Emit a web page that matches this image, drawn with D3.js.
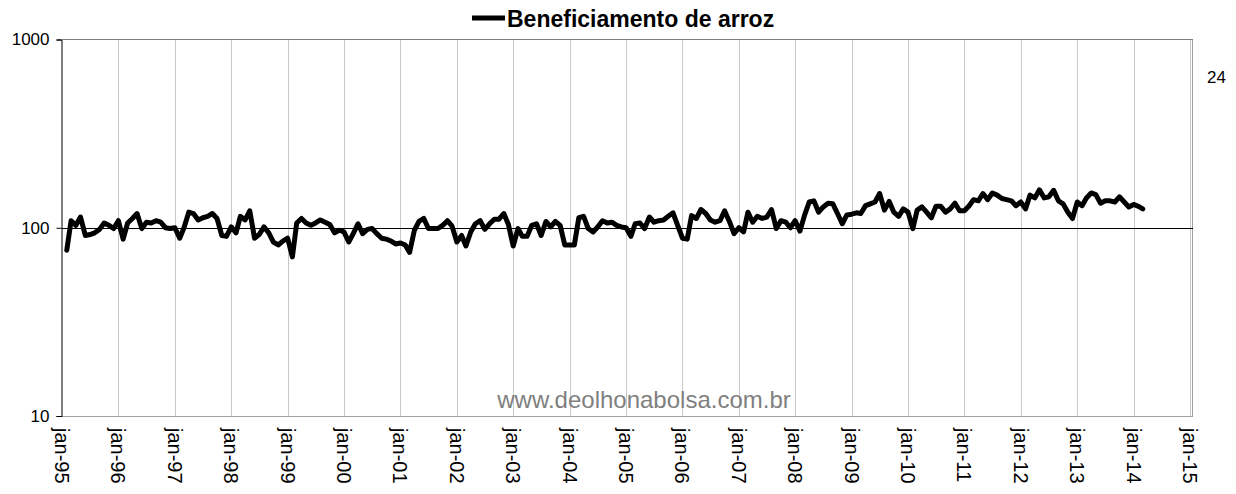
<!DOCTYPE html>
<html>
<head>
<meta charset="utf-8">
<title>Beneficiamento de arroz</title>
<script src="https://d3js.org/d3.v7.min.js"></script>
<style>
  body { margin: 0; background: #fff; }
  text { font-family: "Liberation Sans", Arial, sans-serif; }
</style>
</head>
<body>
<div id="chart"></div>
<script>
// monthly index, first point feb-95
let startYear = 1995, startMonth = 1;
let v1995 = [76, 109, 103, 114, 91, 92, 94, 98, 106, 103, 99];
let v1996 = [109, 87, 106, 112, 119, 99, 107, 106, 109, 107, 100, 99];
let v1997 = [100, 88, 100, 121, 119, 110, 113, 115, 119, 112, 91, 90];
let v1998 = [101, 94, 115, 110, 123, 88, 92, 101, 94, 84, 81, 85];
let v1999 = [88, 70, 106, 112, 106, 103, 106, 110, 107, 104, 94, 97];
let v2000 = [95, 84, 93, 105, 93, 98, 99, 93, 88, 87, 85, 82];
let v2001 = [83, 81, 74, 97, 108, 112, 99, 99, 99, 103, 109, 102];
let v2002 = [84, 91, 80, 95, 105, 109, 98, 105, 111, 111, 119, 104];
let v2003 = [80, 99, 90, 90, 103, 105, 91, 108, 101, 108, 103, 81];
let v2004 = [81, 81, 113, 115, 99, 95, 101, 109, 106, 107, 103, 101];
let v2005 = [100, 90, 105, 106, 99, 114, 107, 109, 110, 115, 120, 103];
let v2006 = [88, 87, 116, 112, 125, 119, 110, 107, 109, 123, 108, 93];
let v2007 = [100, 95, 121, 107, 115, 112, 114, 125, 99, 109, 107, 100];
let v2008 = [109, 96, 116, 137, 139, 121, 129, 135, 134, 119, 105, 117];
let v2009 = [118, 120, 119, 131, 134, 137, 152, 124, 138, 121, 115, 126];
let v2010 = [121, 99, 124, 129, 121, 113, 130, 130, 121, 126, 135, 123];
let v2011 = [123, 131, 141, 139, 152, 141, 153, 149, 143, 141, 139, 131];
let v2012 = [137, 126, 149, 144, 159, 144, 146, 158, 139, 134, 121, 112];
let v2013 = [137, 131, 144, 153, 150, 135, 139, 139, 137, 146, 137, 129];
let v2014 = [133, 130, 126];

let values = [].concat(v1995, v1996, v1997, v1998, v1999, v2000, v2001, v2002,
    v2003, v2004, v2005, v2006, v2007, v2008, v2009, v2010, v2011, v2012, v2013, v2014);
let data = values.map(function(v, i) {
    return { date: new Date(startYear, startMonth + i, 1), value: v };
});

let yTicks = [10, 100, 1000];
let xTicks = d3.range(1995, 2016).map(function(y) { return new Date(y, 0, 1); });
let seriesName = "Beneficiamento de arroz";
let watermark = "www.deolhonabolsa.com.br";
let sideNote = "24";

let W = 1236, H = 494;
let margin = {top: 39.5, left: 62, right: 46, bottom: 78};

let svg = d3.select("#chart").append("svg")
    .attr("width", W).attr("height", H);

let x = d3.scaleTime()
    .domain([new Date(1995, 0, 1), new Date(2015, 0, 1)])
    .range([margin.left, W - margin.right]);
let y = d3.scaleLog()
    .domain([10, 1000])
    .range([H - margin.bottom, margin.top]);

// vertical grid
svg.append("g").selectAll("line")
    .data(xTicks.slice(1))
    .enter().append("line")
    .attr("x1", function(d) { return Math.round(x(d)) + 0.5; })
    .attr("x2", function(d) { return Math.round(x(d)) + 0.5; })
    .attr("y1", y(1000)).attr("y2", y(10))
    .attr("stroke", "#c8c8c8").attr("stroke-width", 1);

// right border
svg.append("line")
    .attr("x1", x.range()[1] + 2.5).attr("x2", x.range()[1] + 2.5)
    .attr("y1", y(1000)).attr("y2", y(10) + 0.5)
    .attr("stroke", "#a0a0a0");

// top and bottom frame
svg.append("line")
    .attr("x1", margin.left).attr("x2", x.range()[1] + 3)
    .attr("y1", y(1000)).attr("y2", y(1000))
    .attr("stroke", "#808080");
svg.append("line")
    .attr("x1", margin.left).attr("x2", x.range()[1] + 3)
    .attr("y1", y(10) + 0.5).attr("y2", y(10) + 0.5)
    .attr("stroke", "#a0a0a0");

// line at 100
svg.append("line")
    .attr("x1", margin.left).attr("x2", x.range()[1] + 3)
    .attr("y1", Math.round(y(100)) + 0.5).attr("y2", Math.round(y(100)) + 0.5)
    .attr("stroke", "#000").attr("stroke-width", 1);

// y axis
let yAxis = svg.append("g")
    .attr("transform", "translate(" + (margin.left - 0.5) + ",0)")
    .call(d3.axisLeft(y).tickValues(yTicks).tickFormat(d3.format("d")).tickSizeOuter(0).tickSize(5).tickPadding(7));
yAxis.select(".domain").attr("stroke", "#000");
yAxis.selectAll(".tick line").attr("stroke", "#000");
yAxis.selectAll("text")
    .attr("font-family", "Liberation Sans, Arial, sans-serif")
    .attr("font-size", "17px").attr("fill", "#000");

// x labels
svg.append("g").selectAll("text")
    .data(xTicks)
    .enter().append("text")
    .attr("transform", function(d) {
        return "translate(" + x(d) + "," + (y(10) + 12) + ") rotate(90)";
    })
    .attr("dy", "0.35em")
    .attr("font-size", "20px")
    .attr("fill", "#000")
    .text(d3.timeFormat("jan-%y"));

// series
let line = d3.line()
    .x(function(d) { return x(d.date); })
    .y(function(d) { return y(d.value); });

svg.append("path")
    .datum(data)
    .attr("d", line)
    .attr("fill", "none")
    .attr("stroke", "#000")
    .attr("stroke-width", 5)
    .attr("stroke-linejoin", "round")
    .attr("stroke-linecap", "round");

// legend
svg.append("line")
    .attr("x1", 472).attr("x2", 505).attr("y1", 18).attr("y2", 18)
    .attr("stroke", "#000").attr("stroke-width", 5);
svg.append("text")
    .attr("x", 507).attr("y", 27)
    .attr("font-size", "23px").attr("font-weight", "bold")
    .text(seriesName);

// watermark
svg.append("text")
    .attr("x", 644).attr("y", 408)
    .attr("text-anchor", "middle")
    .attr("font-size", "24px").attr("fill", "#7f7f7f")
    .text(watermark);

svg.append("text")
    .attr("x", 1207).attr("y", 83)
    .attr("font-size", "17px")
    .text(sideNote);
</script>
</body>
</html>
